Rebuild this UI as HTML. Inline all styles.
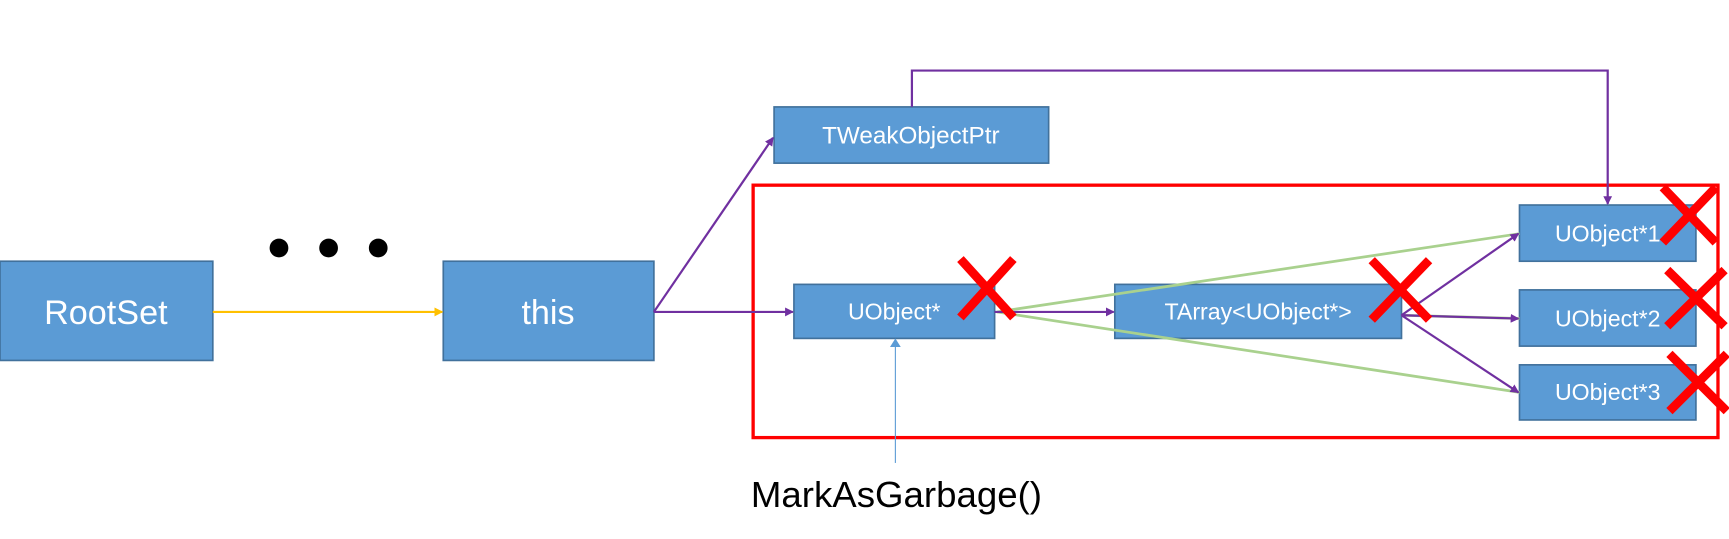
<!DOCTYPE html>
<html><head><meta charset="utf-8"><style>
html,body{margin:0;padding:0;background:#fff;width:1729px;height:539px;overflow:hidden}
svg{display:block}
text{font-family:"Liberation Sans",sans-serif;fill:#fff}
</style></head><body>
<svg width="1729" height="539" viewBox="0 0 1568 489" preserveAspectRatio="none" xmlns="http://www.w3.org/2000/svg">
<defs>
<marker id="ap" markerWidth="8" markerHeight="8" refX="7" refY="4" orient="auto" markerUnits="userSpaceOnUse"><path d="M0,0 L8,4 L0,8 z" fill="#7030a0"/></marker>
<marker id="ay" markerWidth="8" markerHeight="8" refX="7" refY="4" orient="auto" markerUnits="userSpaceOnUse"><path d="M0,0 L8,4 L0,8 z" fill="#ffc000"/></marker>
<marker id="ab" markerWidth="8" markerHeight="10" refX="7" refY="5" orient="auto" markerUnits="userSpaceOnUse"><path d="M0,0 L8,5 L0,10 z" fill="#5b9bd5"/></marker>
</defs>
<g stroke="#41719c" stroke-width="1.5" fill="#5b9bd5">
<rect x="0" y="237" width="193" height="90"/>
<rect x="402" y="237" width="191" height="90"/>
<rect x="702" y="97" width="249" height="51"/>
<rect x="720" y="258" width="182" height="49"/>
<rect x="1011" y="258" width="260" height="49"/>
<rect x="1378" y="186" width="160" height="51"/>
<rect x="1378" y="263" width="160" height="51"/>
<rect x="1378" y="331" width="160" height="50"/>
</g>
<rect x="683" y="168" width="875" height="229" fill="none" stroke="#ff0000" stroke-width="3"/>
<circle cx="253" cy="225" r="8.5"/><circle cx="298" cy="225" r="8.5"/><circle cx="343" cy="225" r="8.5"/>
<g stroke="#a9d18e" stroke-width="2.5" fill="none">
<line x1="904" y1="283" x2="1378" y2="212"/>
<line x1="904" y1="283" x2="1378" y2="356"/>
<line x1="1271" y1="286" x2="1378" y2="289"/>
</g>
<line x1="193" y1="283" x2="401" y2="283" stroke="#ffc000" stroke-width="2" marker-end="url(#ay)"/>
<g stroke="#7030a0" stroke-width="2" fill="none" marker-end="url(#ap)">
<line x1="593" y1="283" x2="719" y2="283"/>
<line x1="593" y1="283" x2="701" y2="125"/>
<line x1="902" y1="283" x2="1010" y2="283"/>
<line x1="1271" y1="286" x2="1377" y2="212"/>
<line x1="1271" y1="286" x2="1377" y2="289"/>
<line x1="1271" y1="286" x2="1377" y2="356"/>
<polyline points="827,97 827,64 1458,64 1458,185"/>
</g>
<line x1="812" y1="420" x2="812" y2="308" stroke="#5b9bd5" stroke-width="1" marker-end="url(#ab)"/>
<text x="96" y="294" font-size="31" text-anchor="middle">RootSet</text>
<text x="497" y="294" font-size="31" text-anchor="middle">this</text>
<text x="826" y="130" font-size="22" text-anchor="middle">TWeakObjectPtr</text>
<text x="811" y="290" font-size="21" text-anchor="middle">UObject*</text>
<text x="1141" y="290" font-size="21" text-anchor="middle">TArray&lt;UObject*&gt;</text>
<text x="1458" y="219" font-size="21" text-anchor="middle">UObject*1</text>
<text x="1458" y="296" font-size="21" text-anchor="middle">UObject*2</text>
<text x="1458" y="363" font-size="21" text-anchor="middle">UObject*3</text>
<text x="681" y="460" font-size="33" textLength="264" lengthAdjust="spacingAndGlyphs" style="fill:#000">MarkAsGarbage()</text>
<g stroke="#ff0000" stroke-width="8" stroke-linecap="butt">
<path d="M871,235 L919,288 M919,235 L871,288"/>
<path d="M1244,236 L1296,290 M1296,236 L1244,290"/>
<path d="M1508,170 L1556,220 M1556,170 L1508,220"/>
<path d="M1512,245 L1564,296 M1564,245 L1512,296"/>
<path d="M1514,321 L1566,373 M1566,321 L1514,373"/>
</g>
</svg>
</body></html>
